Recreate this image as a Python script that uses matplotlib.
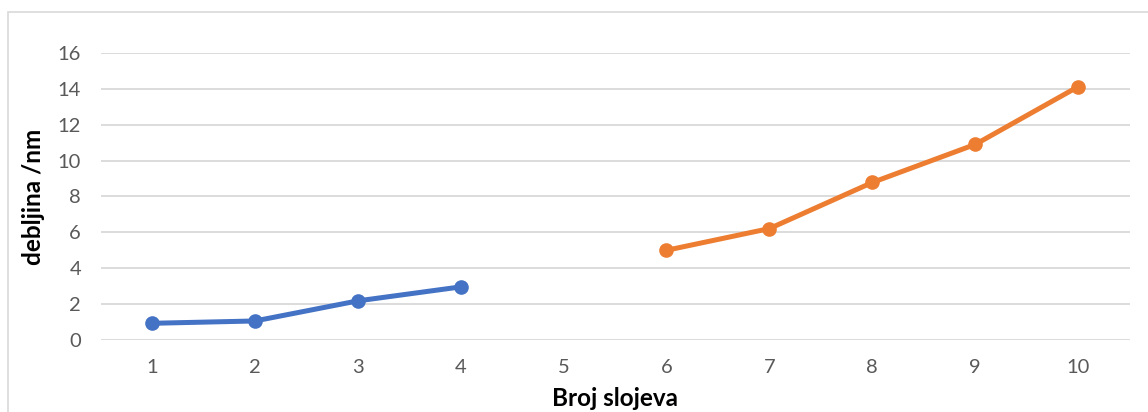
import matplotlib.pyplot as plt
from matplotlib.patches import Rectangle

# layers and measured thickness (nm)
layers_a = [1, 2, 3, 4]
thick_a = [0.93, 1.06, 2.18, 2.96]
layers_b = [6, 7, 8, 9, 10]
thick_b = [5.0, 6.21, 8.78, 10.9, 14.12]
x_ticks = list(range(1, 11))
y_ticks = list(range(0, 17, 2))

plt.rcParams['font.family'] = ['Lato', 'DejaVu Sans']

fig = plt.figure(figsize=(11.48, 4.12), dpi=100)
ax = fig.add_axes([0.0876, 0.1748, 0.8963, 0.6966])

# chart border (light gray frame, like the spreadsheet chart)
fig.patches.append(Rectangle((8 / 1148, -0.01), 1.2, 1 - 12 / 412 + 0.01,
                             transform=fig.transFigure, fill=False,
                             edgecolor='#D9D9D9', linewidth=1.2))

ax.plot(layers_a, thick_a, color='#4472C4', linewidth=3.6,
        marker='o', markersize=9.5, solid_capstyle='round')
ax.plot(layers_b, thick_b, color='#ED7D31', linewidth=3.6,
        marker='o', markersize=9.5, solid_capstyle='round')

ax.set_xlim(0.5, 10.5)
ax.set_ylim(0, 16)
ax.set_xticks(x_ticks)
ax.set_yticks(y_ticks)
ax.tick_params(axis='both', length=0, labelsize=14.5, labelcolor='#595959')
ax.tick_params(axis='x', pad=14)
ax.tick_params(axis='y', pad=14)

ax.grid(axis='y', color='#D9D9D9', linewidth=1.3)
ax.set_axisbelow(True)
for s in ax.spines.values():
    s.set_visible(False)

ax.set_xlabel("Broj slojeva", fontsize=17.5, fontweight='bold')
ax.xaxis.set_label_coords(0.5, -0.165)
ax.set_ylabel("debljina /nm", fontsize=17.5, fontweight='bold', labelpad=9)

fig.savefig("out.png", dpi=100)
